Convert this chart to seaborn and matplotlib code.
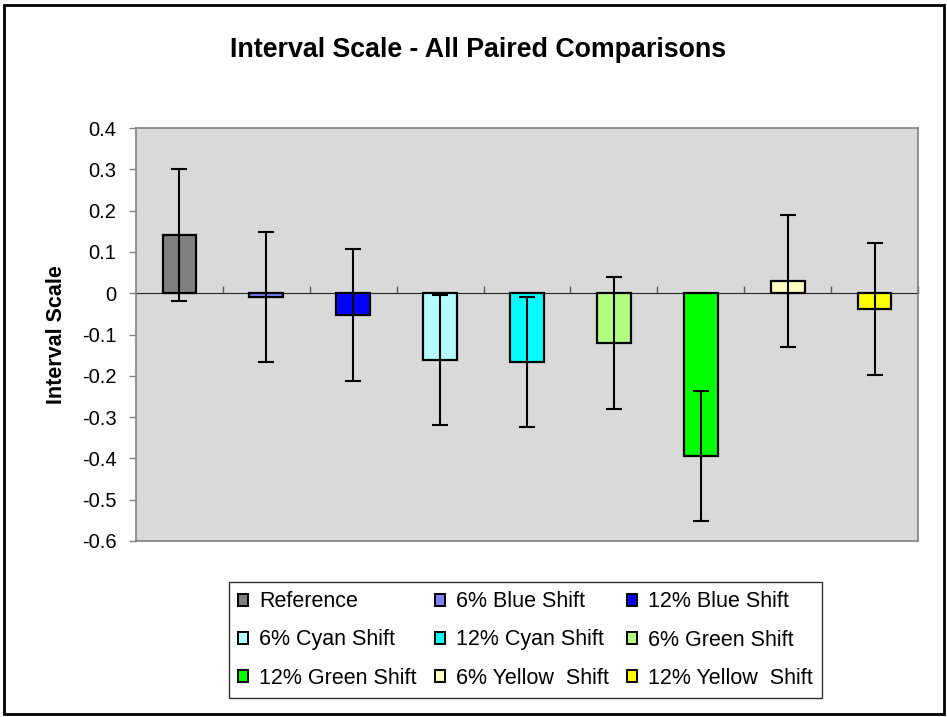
import matplotlib
matplotlib.use("Agg")
import matplotlib.pyplot as plt
import seaborn as sns
import pandas as pd
import numpy as np
from matplotlib.patches import Rectangle, Patch

categories = ["Reference", "6% Blue Shift", "12% Blue Shift",
              "6% Cyan Shift", "12% Cyan Shift", "6% Green Shift",
              "12% Green Shift", "6% Yellow  Shift", "12% Yellow  Shift"]
values = [0.141, -0.010, -0.053, -0.162, -0.167, -0.120, -0.395, 0.030, -0.039]
errors = [0.160, 0.157, 0.160, 0.158, 0.157, 0.160, 0.157, 0.160, 0.160]
colors = ["#808080", "#8080FF", "#0000FF", "#B3FFFF", "#00FFFF",
          "#B3FF80", "#00FF00", "#FFFFC0", "#FFFF00"]
yticks = [0.4, 0.3, 0.2, 0.1, 0, -0.1, -0.2, -0.3, -0.4, -0.5, -0.6]
ytick_labels = ["0.4", "0.3", "0.2", "0.1", "0", "-0.1", "-0.2", "-0.3", "-0.4", "-0.5", "-0.6"]

df = pd.DataFrame({"cat": categories, "val": values, "err": errors})

sns.set_style("white")
plt.rcParams["font.family"] = ["Liberation Sans", "DejaVu Sans"]
plt.rcParams["text.color"] = "black"
plt.rcParams["axes.labelcolor"] = "black"
plt.rcParams["xtick.color"] = "black"
plt.rcParams["ytick.color"] = "black"

fig = plt.figure(figsize=(9.47, 7.17), dpi=100)
ax = fig.add_axes([136/947, 1-541/717, (918-136)/947, (541-128)/717])

sns.barplot(data=df, x="cat", y="val", hue="cat", palette=colors, order=categories,
            hue_order=categories, width=0.39, errorbar=None, legend=False,
            edgecolor="black", linewidth=1.6, ax=ax, saturation=1)
ax.errorbar(np.arange(len(categories)), df["val"], yerr=df["err"], fmt="none",
            ecolor="black", elinewidth=1.5, capsize=5.8, capthick=1.5, zorder=5)

ax.set_facecolor("#D9D9D9")
ax.set_ylim(-0.6, 0.4)
ax.set_xlim(-0.5, len(categories) - 0.5)
ax.set_yticks(yticks)
ax.set_yticklabels(ytick_labels)
ax.set_xticks([])
ax.set_xlabel("")
ax.set_ylabel("Interval Scale", fontsize=15.5, fontweight="bold", labelpad=11)
ax.tick_params(axis="y", direction="out", length=5, width=1, color="#808080",
               labelcolor="black", labelsize=14.5, left=True, pad=9)
for s in ax.spines.values():
    s.set_color("#808080")
    s.set_linewidth(1.2)

# zero-line category axis
sec = ax.secondary_xaxis(0.6)
sec.spines["bottom"].set_color("#555555")
sec.spines["bottom"].set_linewidth(1.0)
sec.set_xticks(np.arange(len(categories)) + 0.5)
sec.set_xticklabels([])
sec.tick_params(axis="x", direction="out", length=5, width=1, color="#555555")

fig.text(478/947, 1-50/717, "Interval Scale - All Paired Comparisons",
         ha="center", va="center", fontsize=19.3, fontweight="bold", color="black")

# legend (row-wise order -> column-major reorder)
handles = [Patch(facecolor=c, edgecolor="black", linewidth=1.4) for c in colors]
order = [0, 3, 6, 1, 4, 7, 2, 5, 8]
leg = fig.legend([handles[i] for i in order], [categories[i] for i in order],
                 ncol=3, loc="center", bbox_to_anchor=(525.5/947, 1-640/717),
                 fontsize=15.5, frameon=True, fancybox=False, edgecolor="black",
                 handlelength=0.47, handleheight=0.47, handletextpad=0.5,
                 columnspacing=0.85, labelspacing=0.8, borderpad=0.45)
leg.get_frame().set_linewidth(1.0)

fig.add_artist(Rectangle((4/947, 3/717), 940/947, 709/717, transform=fig.transFigure,
                         fill=False, edgecolor="black", linewidth=2))

fig.savefig("out.png", dpi=100)
